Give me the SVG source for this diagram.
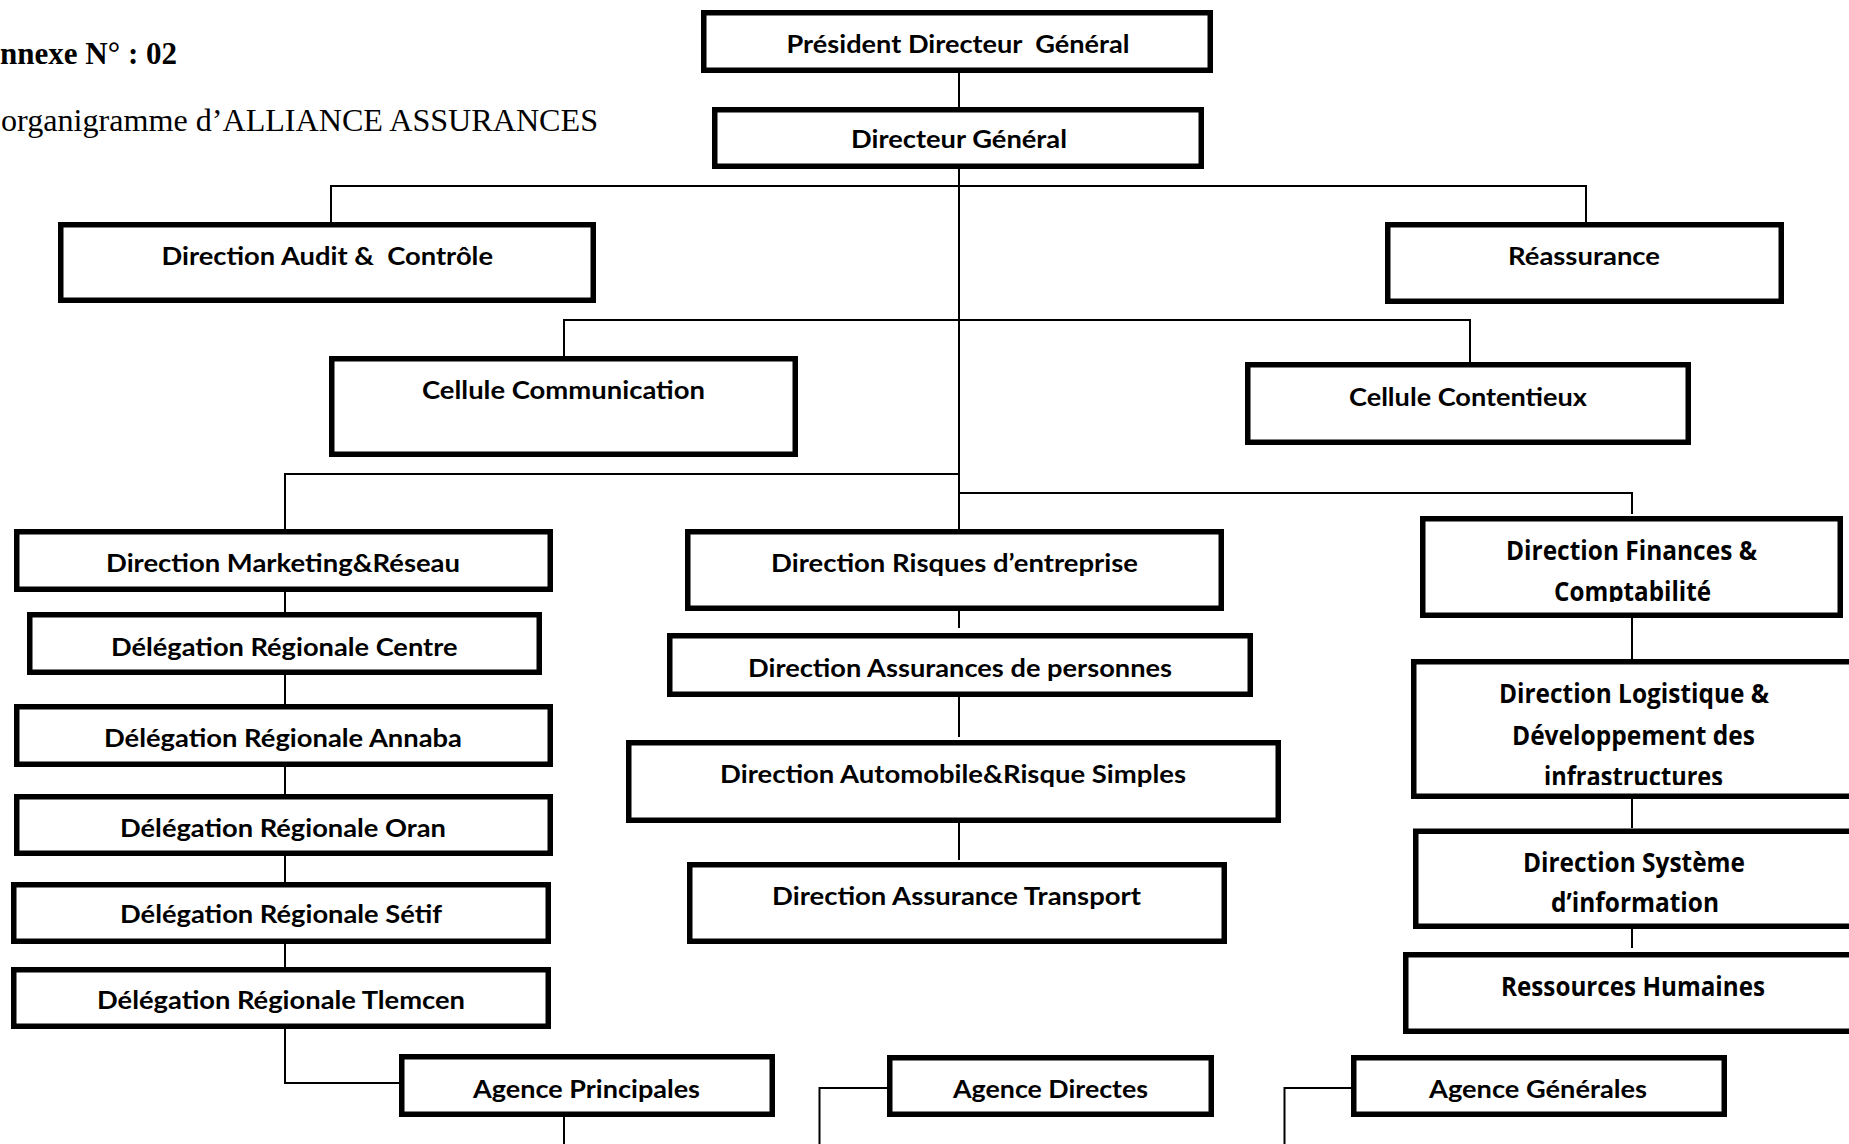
<svg xmlns="http://www.w3.org/2000/svg" width="1849" height="1144" viewBox="0 0 1849 1144">
<style>
.box{fill:#fff;stroke:#000;stroke-width:5.5}
.con{stroke:#000;stroke-width:2;fill:none}
.lbl{font-family:Lato,"Open Sans","Liberation Sans",sans-serif;font-weight:700;font-size:25px;fill:#000;white-space:pre}
.lbr{font-family:"Open Sans","Noto Sans","Liberation Sans",sans-serif;font-weight:700;font-size:26.5px;fill:#000;white-space:pre}
.ttl{font-family:"Liberation Serif","Times New Roman",serif;fill:#000}
</style>
<defs>
<clipPath id="clipFin"><rect x="1400" y="500" width="449" height="102"/></clipPath>
<clipPath id="clipLog"><rect x="1400" y="640" width="449" height="145"/></clipPath>
</defs>
<rect width="1849" height="1144" fill="#fff"/>
<g id="title">
<text class="ttl" x="0" y="64" font-size="31" font-weight="700" textLength="177" lengthAdjust="spacingAndGlyphs">nnexe N° : 02</text>
<text class="ttl" x="1" y="131" font-size="32" textLength="597" lengthAdjust="spacingAndGlyphs">organigramme d’ALLIANCE ASSURANCES</text>
</g>
<g id="connectors">
<path class="con" d="M959 73V107"/>
<path class="con" d="M959 169V529"/>
<path class="con" d="M331 222V186H1586V222"/>
<path class="con" d="M564 356V320H1470V362"/>
<path class="con" d="M285 529V474H959"/>
<path class="con" d="M959 493H1632V514"/>
<path class="con" d="M285 592V612M285 675V704M285 767V794M285 856V882M285 944V967"/>
<path class="con" d="M285 1029V1083H399"/>
<path class="con" d="M564 1117V1144"/>
<path class="con" d="M959 611V628M959 697V737M959 823V860"/>
<path class="con" d="M1632 618V659M1632 799V828M1632 929V948"/>
<path class="con" d="M887 1088H819.5V1144"/>
<path class="con" d="M1351 1088H1284.5V1144"/>
</g>
<g id="n-pdg"><rect class="box" x="703.75" y="12.75" width="506.5" height="57.5"/><text class="lbl" x="786.5" y="53" textLength="343" lengthAdjust="spacingAndGlyphs">Président Directeur  Général</text></g>
<g id="n-dg"><rect class="box" x="714.75" y="109.75" width="486.5" height="56.5"/><text class="lbl" x="851" y="148" textLength="216" lengthAdjust="spacingAndGlyphs">Directeur Général</text></g>
<g id="n-audit"><rect class="box" x="60.75" y="224.75" width="532.5" height="75.5"/><text class="lbl" x="161.5" y="265" textLength="331.5" lengthAdjust="spacingAndGlyphs">Direction Audit &amp;  Contrôle</text></g>
<g id="n-reass"><rect class="box" x="1387.75" y="224.75" width="393.5" height="76.5"/><text class="lbl" x="1508" y="265" textLength="152" lengthAdjust="spacingAndGlyphs">Réassurance</text></g>
<g id="n-comm"><rect class="box" x="331.75" y="358.75" width="463.5" height="95.5"/><text class="lbl" x="422" y="399" textLength="283" lengthAdjust="spacingAndGlyphs">Cellule Communication</text></g>
<g id="n-cont"><rect class="box" x="1247.75" y="364.75" width="440.5" height="77.5"/><text class="lbl" x="1349" y="406" textLength="238" lengthAdjust="spacingAndGlyphs">Cellule Contentieux</text></g>
<g id="n-mkt"><rect class="box" x="16.75" y="531.75" width="533.5" height="57.5"/><text class="lbl" x="106" y="572" textLength="354" lengthAdjust="spacingAndGlyphs">Direction Marketing&amp;Réseau</text></g>
<g id="n-centre"><rect class="box" x="29.75" y="614.75" width="509.5" height="57.5"/><text class="lbl" x="111" y="656" textLength="346.5" lengthAdjust="spacingAndGlyphs">Délégation Régionale Centre</text></g>
<g id="n-annaba"><rect class="box" x="16.75" y="706.75" width="533.5" height="57.5"/><text class="lbl" x="104" y="747" textLength="358" lengthAdjust="spacingAndGlyphs">Délégation Régionale Annaba</text></g>
<g id="n-oran"><rect class="box" x="16.75" y="796.75" width="533.5" height="56.5"/><text class="lbl" x="120" y="837" textLength="326" lengthAdjust="spacingAndGlyphs">Délégation Régionale Oran</text></g>
<g id="n-setif"><rect class="box" x="13.75" y="884.75" width="534.5" height="56.5"/><text class="lbl" x="120" y="923" textLength="322" lengthAdjust="spacingAndGlyphs">Délégation Régionale Sétif</text></g>
<g id="n-tlemcen"><rect class="box" x="13.75" y="969.75" width="534.5" height="56.5"/><text class="lbl" x="97" y="1009" textLength="368" lengthAdjust="spacingAndGlyphs">Délégation Régionale Tlemcen</text></g>
<g id="n-principales"><rect class="box" x="401.75" y="1056.75" width="370.5" height="57.5"/><text class="lbl" x="473" y="1098" textLength="227" lengthAdjust="spacingAndGlyphs">Agence Principales</text></g>
<g id="n-risques"><rect class="box" x="687.75" y="531.75" width="533.5" height="76.5"/><text class="lbl" x="771" y="572" textLength="367" lengthAdjust="spacingAndGlyphs">Direction Risques d’entreprise</text></g>
<g id="n-personnes"><rect class="box" x="669.75" y="635.75" width="580.5" height="58.5"/><text class="lbl" x="748" y="677" textLength="424" lengthAdjust="spacingAndGlyphs">Direction Assurances de personnes</text></g>
<g id="n-auto"><rect class="box" x="628.75" y="742.75" width="649.5" height="77.5"/><text class="lbl" x="720" y="783" textLength="466" lengthAdjust="spacingAndGlyphs">Direction Automobile&amp;Risque Simples</text></g>
<g id="n-transport"><rect class="box" x="689.75" y="864.75" width="534.5" height="76.5"/><text class="lbl" x="772" y="905" textLength="369" lengthAdjust="spacingAndGlyphs">Direction Assurance Transport</text></g>
<g id="n-finances"><rect class="box" x="1422.75" y="518.75" width="417.5" height="96.5"/><g clip-path="url(#clipFin)"><text class="lbr" x="1506" y="559.5" textLength="251" lengthAdjust="spacingAndGlyphs">Direction Finances &amp;</text><text class="lbr" x="1554" y="601" textLength="157" lengthAdjust="spacingAndGlyphs">Comptabilité</text></g></g>
<g id="n-logistique"><rect class="box" x="1413.75" y="661.75" width="500" height="134.5"/><g clip-path="url(#clipLog)"><text class="lbr" x="1499" y="703" textLength="270" lengthAdjust="spacingAndGlyphs">Direction Logistique &amp;</text><text class="lbr" x="1512" y="744.5" textLength="243" lengthAdjust="spacingAndGlyphs">Développement des</text><text class="lbr" x="1544" y="786" textLength="179" lengthAdjust="spacingAndGlyphs">infrastructures</text></g></g>
<g id="n-systeme"><rect class="box" x="1415.75" y="831.25" width="500" height="95"/><text class="lbr" x="1523" y="871.5" textLength="222" lengthAdjust="spacingAndGlyphs">Direction Système</text><text class="lbr" x="1551" y="912" textLength="168" lengthAdjust="spacingAndGlyphs">d’information</text></g>
<g id="n-rh"><rect class="box" x="1405.75" y="954.75" width="500" height="76.5"/><text class="lbr" x="1501" y="995.5" textLength="264" lengthAdjust="spacingAndGlyphs">Ressources Humaines</text></g>
<g id="n-directes"><rect class="box" x="889.75" y="1057.75" width="321.5" height="56.5"/><text class="lbl" x="953" y="1098" textLength="195" lengthAdjust="spacingAndGlyphs">Agence Directes</text></g>
<g id="n-generales"><rect class="box" x="1353.75" y="1057.75" width="370.5" height="56.5"/><text class="lbl" x="1429" y="1098" textLength="218" lengthAdjust="spacingAndGlyphs">Agence Générales</text></g>
</svg>
